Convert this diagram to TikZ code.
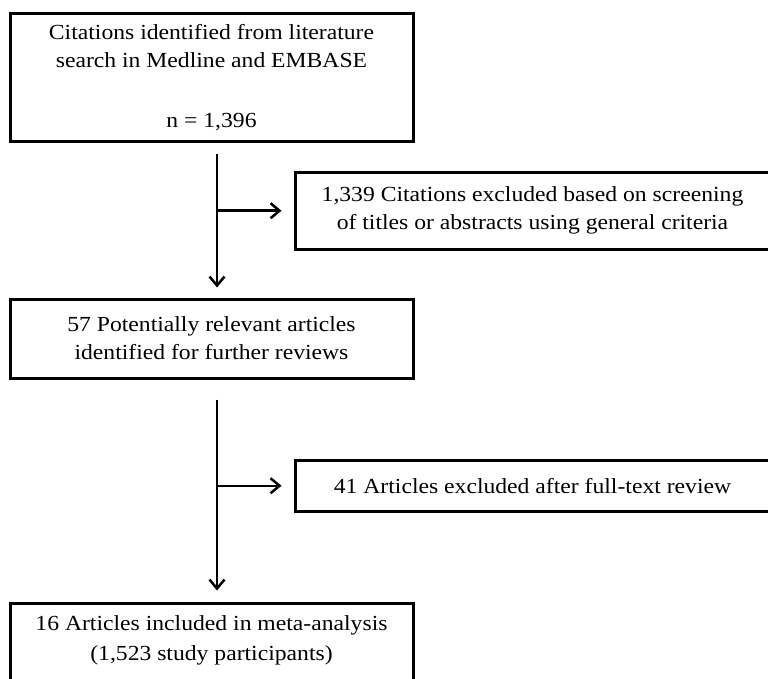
\documentclass[tikz,border=0pt]{standalone}
\usepackage{fontspec}
\setmainfont{Liberation Serif}[FakeStretch=1.1]
\usetikzlibrary{arrows.meta}
\begin{document}
\begin{tikzpicture}[x=1pt,y=-1pt,
  box/.style={draw=black, line width=3pt, align=center, inner sep=0pt,
    font=\fontsize{21.5}{28}\selectfont},
  txt/.style={align=center, inner sep=0pt, font=\fontsize{21.5}{30}\selectfont},
  conn/.style={line width=2.5pt, -{Straight Barb[length=9pt,width=15pt,line width=2.5pt]}}]
\useasboundingbox (0,0) rectangle (768,679);
\fill[white] (0,0) rectangle (768,679);
\node[box, minimum width=403pt, minimum height=128pt] (b1) at (211.5,78)
  {Citations identified from literature\\search in Medline and EMBASE\\[32pt]n = 1,396};
\node[box, minimum width=475pt, minimum height=76.5pt] (b2) at (532.5,210.75)
  {1,339 Citations excluded based on screening\\of titles or abstracts using general criteria};
\node[box, minimum width=403pt, minimum height=79pt] (b3) at (211.5,338.5)
  {57 Potentially relevant articles\\identified for further reviews};
\node[box, minimum width=475pt, minimum height=51.5pt] (b4) at (532.5,485.75)
  {41 Articles excluded after full-text review};
\node[box, minimum width=403pt, minimum height=84pt] (b5) at (211.5,645) {};
\node[txt] (t5) at (211.5,640)
  {16 Articles included in meta-analysis\\(1,523 study participants)};
\coordinate (v1) at (217,0);
\draw[conn, shorten <=11pt, shorten >=10pt] (b1.south -| v1) -- (b3.north -| v1);
\draw[conn, shorten >=12pt] (b2.west -| v1) -- (b2.west);
\draw[conn, shorten <=20pt, shorten >=11pt] (b3.south -| v1) -- (b5.north -| v1);
\draw[conn, shorten >=12pt] (b4.west -| v1) -- (b4.west);
\end{tikzpicture}
\end{document}
